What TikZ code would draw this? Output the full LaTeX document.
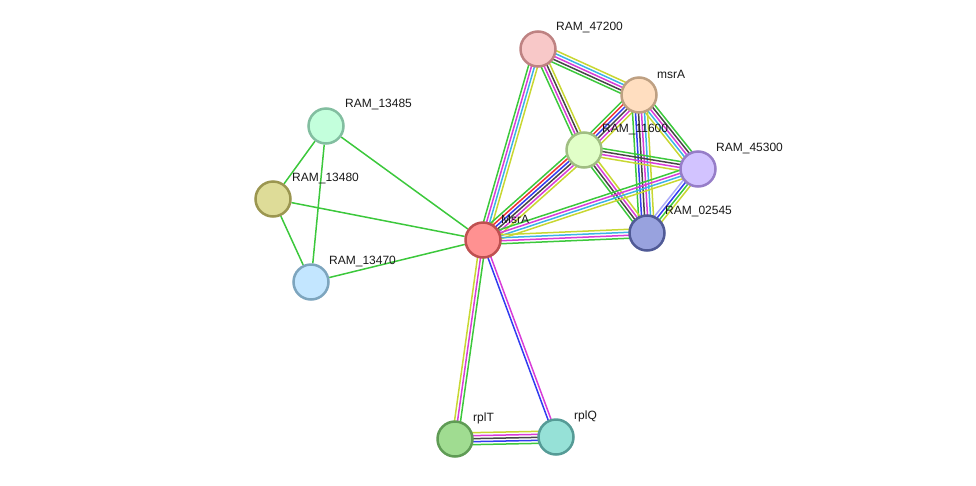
\documentclass[tikz,border=0pt]{standalone}
\usepackage{fontspec}
\setmainfont{Liberation Sans}
\usetikzlibrary{calc,backgrounds}
\definecolor{sgreen}{RGB}{60,200,60}
\definecolor{smag}{RGB}{216,60,216}
\definecolor{scyan}{RGB}{60,180,230}
\definecolor{syel}{RGB}{200,215,50}
\definecolor{sblk}{RGB}{70,70,70}
\definecolor{sred}{RGB}{240,50,50}
\definecolor{sblue}{RGB}{50,60,240}
\definecolor{slav}{RGB}{170,170,250}
\newcommand\strEdge[4]{%
  \foreach \c [count=\i] in {#4}{%
    \pgfmathsetmacro\off{(\i-(#3+1)/2)*3}%
    \draw[\c, edgeline] ($(#1)!\off pt!90:(#2)$) -- ($(#2)!\off pt!-90:(#1)$);
  }%
}
\tikzset{
  prot/.style={circle, minimum size=35pt, inner sep=0pt, line width=2.5pt},
  edgeline/.style={line width=1.5pt},
  lbl/.style={anchor=west, inner sep=0pt, text=black!90, font=\fontsize{12}{14}\selectfont},
}
\begin{document}
\begin{tikzpicture}[x=1pt,y=-1pt]
\useasboundingbox (0,0) rectangle (976,485);
% proteins
\node[prot, fill={rgb,255:red,255;green,145;blue,145}, draw={rgb,255:red,190;green,80;blue,80}] (MsrA) at (483,240) {};
\node[prot, fill={rgb,255:red,248;green,200;blue,200}, draw={rgb,255:red,190;green,130;blue,130}] (R47200) at (538,49) {};
\node[prot, fill={rgb,255:red,255;green,222;blue,192}, draw={rgb,255:red,190;green,160;blue,130}] (msrA) at (639,95) {};
\node[prot, fill={rgb,255:red,225;green,255;blue,200}, draw={rgb,255:red,160;green,190;blue,130}] (R11600) at (584,150) {};
\node[prot, fill={rgb,255:red,210;green,195;blue,255}, draw={rgb,255:red,150;green,125;blue,200}] (R45300) at (698,169) {};
\node[prot, fill={rgb,255:red,152;green,162;blue,222}, draw={rgb,255:red,80;green,90;blue,150}] (R02545) at (647,233) {};
\node[prot, fill={rgb,255:red,195;green,255;blue,220}, draw={rgb,255:red,130;green,190;blue,160}] (R13485) at (326,126) {};
\node[prot, fill={rgb,255:red,222;green,220;blue,152}, draw={rgb,255:red,155;green,150;blue,80}] (R13480) at (273,199) {};
\node[prot, fill={rgb,255:red,195;green,230;blue,255}, draw={rgb,255:red,125;green,165;blue,190}] (R13470) at (311,282) {};
\node[prot, fill={rgb,255:red,160;green,220;blue,145}, draw={rgb,255:red,95;green,155;blue,85}] (rplT) at (455,439) {};
\node[prot, fill={rgb,255:red,150;green,225;blue,215}, draw={rgb,255:red,85;green,155;blue,150}] (rplQ) at (556,437) {};
% labels
\node[lbl] (lMsrA) at (501,219) {MsrA};
\node[lbl] (l47200) at (556,28) {RAM\_47200};
\node[lbl] (lmsrA) at (657,74) {msrA};
\node[lbl] (l11600) at (602,129) {RAM\_11600};
\node[lbl] (l45300) at (716,148) {RAM\_45300};
\node[lbl] (l02545) at (665,211) {RAM\_02545};
\node[lbl] (l13485) at (345,104) {RAM\_13485};
\node[lbl] (l13480) at (292,178) {RAM\_13480};
\node[lbl] (l13470) at (329,261) {RAM\_13470};
\node[lbl] (lrplT) at (473,418) {rplT};
\node[lbl] (lrplQ) at (574,416) {rplQ};
\begin{scope}[on background layer]
\strEdge{R47200}{MsrA}{4}{sgreen,smag,scyan,syel}
\strEdge{R47200}{msrA}{5}{sgreen,sblk,smag,scyan,syel}
\strEdge{R47200}{R11600}{4}{sgreen,smag,sblk,syel}
\strEdge{msrA}{R11600}{6}{sgreen,sred,sblue,sblk,smag,syel}
\strEdge{msrA}{R45300}{5}{syel,scyan,smag,sblk,sgreen}
\strEdge{msrA}{R02545}{6}{sgreen,sblue,sblk,smag,scyan,syel}
\strEdge{R11600}{R45300}{4}{syel,smag,sblk,sgreen}
\strEdge{R11600}{R02545}{4}{sgreen,sblk,smag,syel}
\strEdge{R11600}{MsrA}{6}{sgreen,sred,sblue,sblk,smag,syel}
\strEdge{R45300}{R02545}{4}{slav,sblue,sgreen,syel}
\strEdge{R45300}{MsrA}{4}{sgreen,smag,scyan,syel}
\strEdge{R02545}{MsrA}{4}{syel,scyan,smag,sgreen}
\strEdge{MsrA}{rplT}{3}{syel,smag,sgreen}
\strEdge{MsrA}{rplQ}{2}{sblue,smag}
\strEdge{rplT}{rplQ}{5}{sgreen,sblue,sblk,smag,syel}
\draw[sgreen, edgeline] (R13485) -- (MsrA);
\draw[sgreen, edgeline] (R13480) -- (MsrA);
\draw[sgreen, edgeline] (R13470) -- (MsrA);
\draw[sgreen, edgeline] (R13485) -- (R13480);
\draw[sgreen, edgeline] (R13485) -- (R13470);
\draw[sgreen, edgeline] (R13480) -- (R13470);
\end{scope}
\end{tikzpicture}
\end{document}
